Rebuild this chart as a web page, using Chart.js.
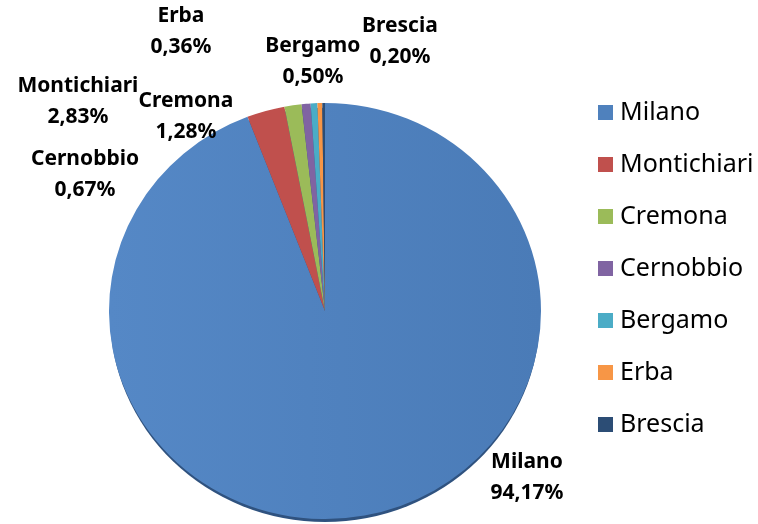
<!DOCTYPE html>
<html>
<head>
<meta charset="utf-8">
<script src="https://cdn.jsdelivr.net/npm/chart.js@4.4.1/dist/chart.umd.min.js"></script>
<style>
  html, body { margin: 0; padding: 0; background: #fff; }
  .myChart { width: 758px; height: 524px; position: relative; }
</style>
</head>
<body>
<div class="myChart"><canvas id="myChartCanvas"></canvas></div>
<script>
// data (percent share per city)
const cities = ['Milano', 'Montichiari', 'Cremona', 'Cernobbio', 'Bergamo', 'Erba', 'Brescia'];
const shares = [94.17, 2.83, 1.28, 0.67, 0.50, 0.36, 0.20];
const colors = ['#4F81BD', '#C0504D', '#9BBB59', '#8064A2', '#4BACC6', '#F79646', '#2C4D75'];

// where each data label sits, relative to pie centre, in units of radius
const labelSpots = [[0.935, 0.769], [-1.144, -0.972], [-0.644, -0.903], [-1.111, -0.634],
                    [-0.056, -1.157], [-0.667, -1.296], [0.347, -1.25]];

const FONT = '"Noto Sans", "Open Sans", sans-serif';
const SQUASH = 0.963;   // excel 3d pie is a bit flatter than round
const SHIFT = 3;

const fmt = v => v.toFixed(2).replace('.', ',') + '%';

function visibleCentre(arc) {
    return { x: arc.x, y: arc.y + SHIFT };
}

// flattens the pie and puts a dark rim under it
const tiltPlugin = {
    id: 'tilt',
    beforeDatasetsDraw(chart) {
        const arc = chart.getDatasetMeta(0).data[0];
        if (!arc) return;
        const ctx = chart.ctx;
        const c = visibleCentre(arc);
        ctx.save();
        ctx.translate(0, c.y);
        ctx.scale(1, SQUASH);
        ctx.translate(0, -arc.y);
        ctx.fillStyle = '#2f527f';
        ctx.beginPath();
        ctx.arc(arc.x, arc.y + 4, arc.outerRadius - 1, 0, Math.PI * 2);
        ctx.fill();
    },
    afterDatasetsDraw(chart) {
        chart.ctx.restore();
    }
};

const labelPlugin = {
    id: 'outLabels',
    afterDatasetsDraw(chart) {
        const ctx = chart.ctx;
        const meta = chart.getDatasetMeta(0);
        ctx.save();
        ctx.fillStyle = '#000';
        ctx.font = 'bold 21px ' + FONT;
        ctx.textAlign = 'center';
        ctx.textBaseline = 'middle';
        meta.data.forEach((arc, i) => {
            const r = arc.outerRadius;
            const c = visibleCentre(arc);
            const x = c.x + labelSpots[i][0] * r;
            const y = c.y + labelSpots[i][1] * r;
            ctx.fillText(cities[i], x, y - 15);
            ctx.fillText(fmt(shares[i]), x, y + 16);
        });
        ctx.restore();
    }
};

const legendPlugin = {
    id: 'sideLegend',
    afterDraw(chart) {
        const ctx = chart.ctx;
        ctx.save();
        ctx.font = '25px ' + FONT;
        ctx.textBaseline = 'middle';
        ctx.textAlign = 'left';
        cities.forEach((c, i) => {
            const y = 113 + i * 52;
            ctx.fillStyle = colors[i];
            ctx.fillRect(598, y - 8, 15, 15);
            ctx.fillStyle = '#000';
            ctx.fillText(c, 620, y);
        });
        ctx.restore();
    }
};

function sliceFill(context) {
    const chart = context.chart;
    const area = chart.chartArea;
    const i = context.dataIndex;
    if (!area || i !== 0) return colors[i];
    const g = chart.ctx.createLinearGradient(area.left, 0, area.right, 0);
    g.addColorStop(0, '#5588C6');
    g.addColorStop(1, '#4A7BB7');
    return g;
}

new Chart(document.getElementById('myChartCanvas'), {
    type: 'pie',
    data: {
        labels: cities,
        datasets: [{
            data: shares,
            backgroundColor: sliceFill,
            borderWidth: 0
        }]
    },
    options: {
        responsive: true,
        maintainAspectRatio: false,
        animation: false,
        layout: { padding: { left: 109, right: 217, top: 92, bottom: 0 } },
        plugins: {
            legend: { display: false },
            tooltip: { enabled: false }
        }
    },
    plugins: [tiltPlugin, labelPlugin, legendPlugin]
});
</script>
</body>
</html>
